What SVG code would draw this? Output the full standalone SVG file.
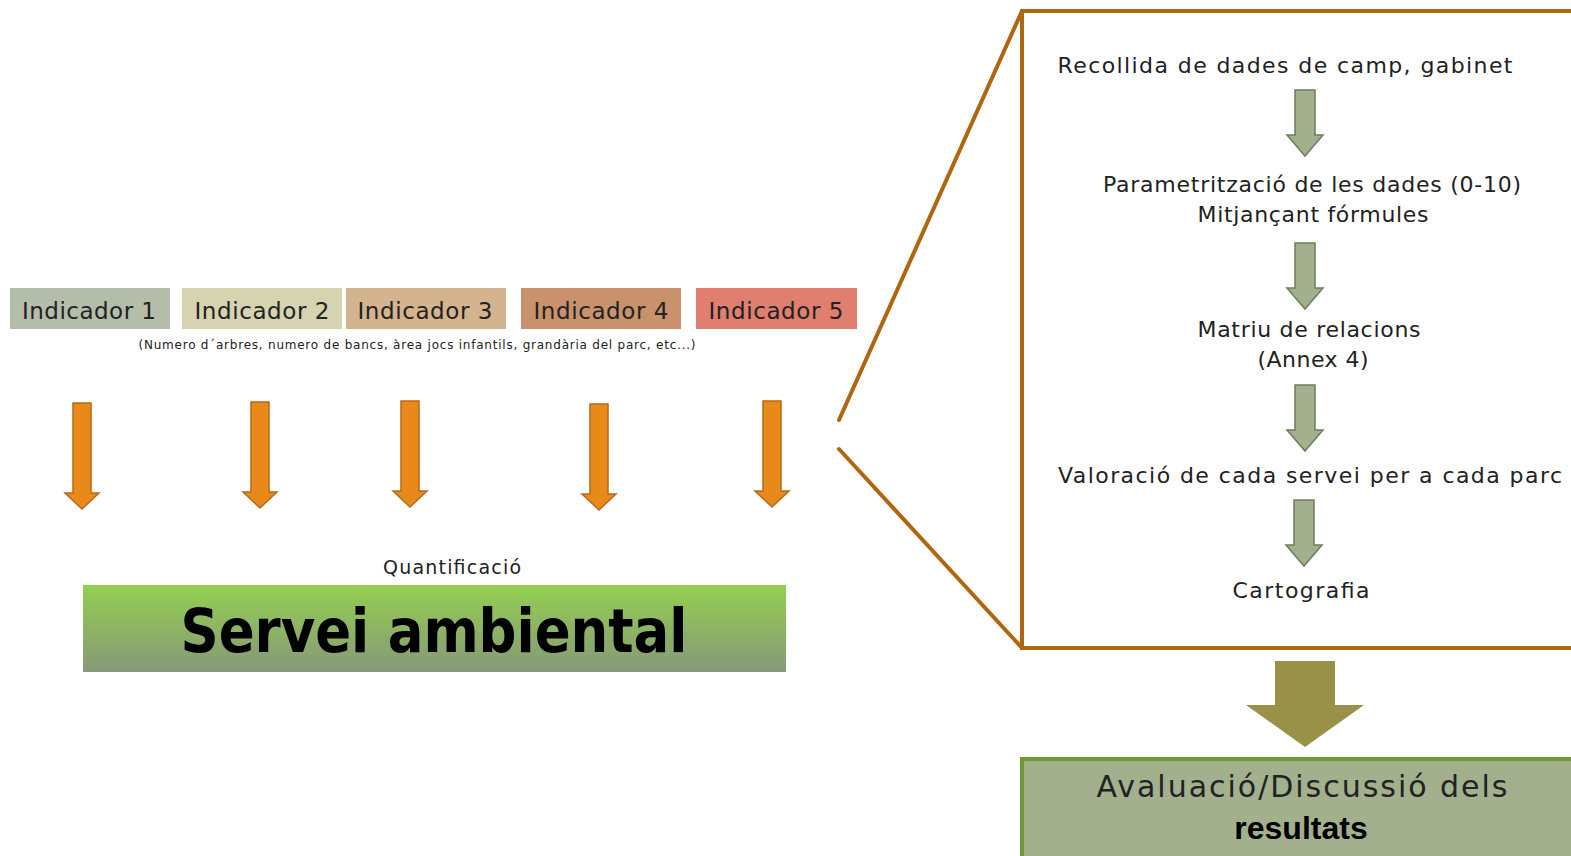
<svg xmlns="http://www.w3.org/2000/svg" width="1571" height="856" viewBox="0 0 1571 856">
<defs>
<linearGradient id="gGreen" x1="0" y1="0" x2="0" y2="1">
<stop offset="0" stop-color="#92D050"/>
<stop offset="1" stop-color="#879878"/>
</linearGradient>
<path id="orangeArrow" d="M-9,0 H9 V90 H17 L0,106 L-17,90 H-9 Z"/>
<path id="greenArrow" d="M-10,0 H10 V45 H18 L0,66 L-18,45 H-10 Z"/>
</defs>
<style>
text{font-family:"DejaVu Sans","Liberation Sans",Arial,sans-serif;fill:#222}
.ind{font-size:23px;text-anchor:middle}
.oa{fill:#E8891A;stroke:#B8681A;stroke-width:1.5}
.ga{fill:#A3B08E;stroke:#6E7E5A;stroke-width:1.5}
.step{font-size:22px;text-anchor:middle}
.frame{fill:none;stroke:#B0650F;stroke-width:4;stroke-linecap:round}
.blk{fill:#000;font-weight:bold}
</style>
<rect width="1571" height="856" fill="#fff"/>

<g id="ind1"><rect x="10" y="288" width="160" height="41" fill="#B4BDAA"/><text class="ind" x="89" y="319" textLength="134">Indicador 1</text></g>
<g id="ind2"><rect x="182" y="288" width="160" height="41" fill="#D6D3B0"/><text class="ind" x="262" y="319" textLength="135">Indicador 2</text></g>
<g id="ind3"><rect x="346" y="288" width="160" height="41" fill="#D4B48E"/><text class="ind" x="425" y="319" textLength="135">Indicador 3</text></g>
<g id="ind4"><rect x="521" y="288" width="160" height="41" fill="#C9926C"/><text class="ind" x="601" y="319" textLength="135">Indicador 4</text></g>
<g id="ind5"><rect x="696" y="288" width="161" height="41" fill="#E07E6F"/><text class="ind" x="776" y="319" textLength="135">Indicador 5</text></g>
<text id="subtitle" x="417" y="349" font-size="12" text-anchor="middle" textLength="557">(Numero d´arbres, numero de bancs, àrea jocs infantils, grandària del parc, etc...)</text>

<g id="connectors">
<use href="#orangeArrow" class="oa" x="82" y="403"/>
<use href="#orangeArrow" class="oa" x="260" y="402"/>
<use href="#orangeArrow" class="oa" x="410" y="401"/>
<use href="#orangeArrow" class="oa" x="599" y="404"/>
<use href="#orangeArrow" class="oa" x="772" y="401"/>
<line class="frame" x1="839" y1="420" x2="1022" y2="11"/>
<line class="frame" x1="839" y1="449" x2="1022" y2="648"/>
<use href="#greenArrow" class="ga" x="1305" y="90"/>
<use href="#greenArrow" class="ga" x="1305" y="243"/>
<use href="#greenArrow" class="ga" x="1305" y="385"/>
<use href="#greenArrow" class="ga" x="1304" y="500"/>
<path d="M1275,661 H1335 V705 H1364 L1305,747 L1246,705 H1275 Z" fill="#9A9149"/>
</g>

<text id="quant" x="452" y="574" font-size="19" text-anchor="middle" textLength="138">Quantificació</text>
<g id="servei"><rect x="83" y="585" width="703" height="87" fill="url(#gGreen)"/><text class="blk" x="434" y="652" font-size="60" text-anchor="middle" textLength="507" lengthAdjust="spacingAndGlyphs">Servei ambiental</text></g>

<g id="process">
<rect class="frame" x="1022" y="11" width="600" height="637" stroke-linejoin="miter"/>
<text class="step" x="1285" y="73" textLength="455">Recollida de dades de camp, gabinet</text>
<text class="step" x="1312" y="192" textLength="418">Parametrització de les dades (0-10)</text>
<text class="step" x="1313" y="222" textLength="231">Mitjançant fórmules</text>
<text class="step" x="1309" y="337" textLength="223">Matriu de relacions</text>
<text class="step" x="1313" y="367" textLength="111">(Annex 4)</text>
<text class="step" x="1310" y="483" textLength="504">Valoració de cada servei per a cada parc</text>
<text class="step" x="1301" y="598" textLength="137">Cartografia</text>
</g>

<g id="avaluacio">
<rect x="1022" y="759" width="600" height="120" fill="#A3B08E" stroke="#6E9A35" stroke-width="4"/>
<text x="1302" y="797" font-size="30" text-anchor="middle" textLength="411">Avaluació/Discussió dels</text>
<text class="blk" x="1301" y="839" font-size="32" text-anchor="middle" style="font-family:'Liberation Sans',Arial,sans-serif">resultats</text>
</g>
</svg>
